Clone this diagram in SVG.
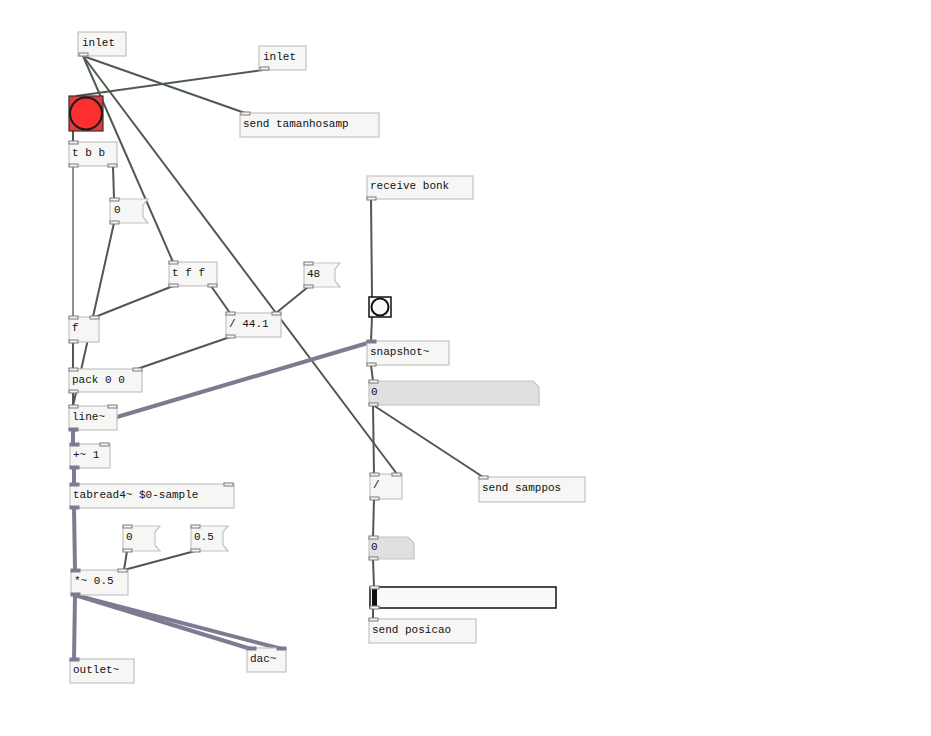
<svg xmlns="http://www.w3.org/2000/svg" width="931" height="736" viewBox="0 0 931 736">
<style>
.b{fill:#f6f6f4;stroke:#c3c3c3;stroke-width:1.2}
.n{fill:#e0e0e0;stroke:#c3c3c3;stroke-width:1.2}
.t{font-family:"Liberation Mono","DejaVu Sans Mono",monospace;font-size:11px;fill:#111}
.p{fill:#f4f4f4;stroke:#7a7a7a;stroke-width:1}
.s{fill:#7d7b92;stroke:#7d7b92;stroke-width:1}
.c{stroke:#4e5a4e;stroke-width:2;fill:none}
.cs{stroke:#7d7b92;stroke-width:4;fill:none}
</style>
<rect width="931" height="736" fill="#ffffff"/>
<g id="connectors">
<line class="c" x1="83" y1="56" x2="245" y2="113"/>
<line class="c" x1="83" y1="56" x2="173" y2="262"/>
<line class="c" x1="83" y1="56" x2="397" y2="474"/>
<line class="c" x1="263" y1="70" x2="76" y2="96"/>
<line class="c" x1="73" y1="131" x2="73" y2="142"/>
<line class="c" x1="73" y1="166" x2="73" y2="317" style="stroke-width:1.3"/>
<line class="c" x1="113" y1="166" x2="114" y2="199"/>
<line class="c" x1="114" y1="223" x2="73" y2="406"/>
<line class="c" x1="173" y1="286" x2="95" y2="317"/>
<line class="c" x1="211" y1="286" x2="230" y2="313"/>
<line class="c" x1="308" y1="287" x2="276" y2="313"/>
<line class="c" x1="230" y1="337" x2="137" y2="369"/>
<line class="c" x1="73" y1="342" x2="73" y2="369"/>
<line class="c" x1="73" y1="392" x2="73" y2="406"/>
<line class="c" x1="127" y1="551" x2="124" y2="570"/>
<line class="c" x1="195" y1="551" x2="124" y2="570"/>
<line class="c" x1="371" y1="199" x2="372" y2="297"/>
<line class="c" x1="372" y1="317" x2="371" y2="341"/>
<line class="c" x1="371" y1="365" x2="373" y2="381"/>
<line class="c" x1="373" y1="405" x2="374" y2="474"/>
<line class="c" x1="373" y1="405" x2="483" y2="477"/>
<line class="c" x1="374" y1="499" x2="373" y2="537"/>
<line class="c" x1="373" y1="559" x2="374" y2="587"/>
<line class="c" x1="373" y1="608" x2="373" y2="619"/>
<line class="cs" x1="73" y1="430" x2="73" y2="444"/>
<line class="cs" x1="73" y1="430" x2="371" y2="342"/>
<line class="cs" x1="74" y1="468" x2="74" y2="484"/>
<line class="cs" x1="74" y1="508" x2="75" y2="570"/>
<line class="cs" x1="75" y1="595" x2="74" y2="659"/>
<line class="cs" x1="75" y1="595" x2="251" y2="649"/>
<line class="cs" x1="75" y1="595" x2="282" y2="649"/>
</g>
<g id="inletL"><rect class="b" x="78" y="32" width="48" height="24"/><text class="t" x="82" y="46">inlet</text><rect class="p" x="79" y="53" width="9" height="3"/></g>
<g id="inletR"><rect class="b" x="259" y="46" width="47" height="24"/><text class="t" x="263" y="60">inlet</text><rect class="p" x="260" y="67" width="9" height="3"/></g>
<g id="bngRed"><rect x="69" y="96" width="34" height="35" fill="#e63a3a" stroke="#333" stroke-width="1.2"/><circle cx="86" cy="113.5" r="16" fill="#fb2f2f" stroke="#1a1a1a" stroke-width="2"/></g>
<g id="sendTam"><rect class="b" x="240" y="113" width="139" height="24"/><text class="t" x="243" y="127">send tamanhosamp</text><rect class="p" x="241" y="112" width="9" height="3"/></g>
<g id="tbb"><rect class="b" x="69" y="142" width="48" height="24"/><text class="t" x="72" y="156">t b b</text><rect class="p" x="69" y="141" width="9" height="3"/><rect class="p" x="69" y="164" width="9" height="3"/><rect class="p" x="108" y="164" width="9" height="3"/></g>
<g id="msg0"><polygon class="b" points="110,199 148,199 143,205 143,217 148,223 110,223"/><text class="t" x="114" y="213">0</text><rect class="p" x="110" y="198" width="9" height="3"/><rect class="p" x="110" y="221" width="9" height="3"/></g>
<g id="tff"><rect class="b" x="169" y="262" width="48" height="24"/><text class="t" x="172" y="276">t f f</text><rect class="p" x="169" y="261" width="9" height="3"/><rect class="p" x="169" y="284" width="9" height="3"/><rect class="p" x="208" y="284" width="9" height="3"/></g>
<g id="msg48"><polygon class="b" points="304,263 340,263 335,269 335,281 340,287 304,287"/><text class="t" x="307" y="277">48</text><rect class="p" x="304" y="262" width="9" height="3"/><rect class="p" x="304" y="285" width="9" height="3"/></g>
<g id="div441"><rect class="b" x="226" y="313" width="55" height="24"/><text class="t" x="229" y="327">/ 44.1</text><rect class="p" x="226" y="312" width="9" height="3"/><rect class="p" x="272" y="312" width="9" height="3"/><rect class="p" x="226" y="335" width="9" height="3"/></g>
<g id="f"><rect class="b" x="69" y="317" width="30" height="25"/><text class="t" x="72" y="331">f</text><rect class="p" x="69" y="316" width="9" height="3"/><rect class="p" x="90" y="316" width="9" height="3"/><rect class="p" x="69" y="340" width="9" height="3"/></g>
<g id="pack"><rect class="b" x="69" y="369" width="73" height="23"/><text class="t" x="72" y="383">pack 0 0</text><rect class="p" x="69" y="368" width="9" height="3"/><rect class="p" x="133" y="368" width="9" height="3"/><rect class="p" x="69" y="390" width="9" height="3"/></g>
<g id="line"><rect class="b" x="69" y="406" width="48" height="24"/><text class="t" x="72" y="420">line~</text><rect class="p" x="69" y="405" width="9" height="3"/><rect class="p" x="108" y="405" width="9" height="3"/><rect class="s" x="69" y="428" width="9" height="3"/></g>
<g id="plus"><rect class="b" x="70" y="444" width="40" height="24"/><text class="t" x="73" y="458">+~ 1</text><rect class="s" x="70" y="443" width="9" height="3"/><rect class="p" x="100" y="443" width="9" height="3"/><rect class="s" x="70" y="466" width="9" height="3"/></g>
<g id="tabread"><rect class="b" x="70" y="484" width="164" height="24"/><text class="t" x="73" y="498">tabread4~ $0-sample</text><rect class="s" x="70" y="483" width="9" height="3"/><rect class="p" x="224" y="483" width="9" height="3"/><rect class="s" x="70" y="506" width="9" height="3"/></g>
<g id="msg0b"><polygon class="b" points="123,526 160,526 155,532 155,545 160,551 123,551"/><text class="t" x="126" y="540">0</text><rect class="p" x="123" y="525" width="9" height="3"/><rect class="p" x="123" y="549" width="9" height="3"/></g>
<g id="msg05"><polygon class="b" points="191,526 228,526 223,532 223,545 228,551 191,551"/><text class="t" x="194" y="540">0.5</text><rect class="p" x="191" y="525" width="9" height="3"/><rect class="p" x="191" y="549" width="9" height="3"/></g>
<g id="mul"><rect class="b" x="71" y="570" width="57" height="25"/><text class="t" x="74" y="584">*~ 0.5</text><rect class="s" x="71" y="569" width="9" height="3"/><rect class="p" x="118" y="569" width="9" height="3"/><rect class="s" x="71" y="593" width="9" height="3"/></g>
<g id="dac"><rect class="b" x="247" y="648" width="39" height="24"/><text class="t" x="250" y="662">dac~</text><rect class="s" x="247" y="647" width="9" height="3"/><rect class="s" x="277" y="647" width="9" height="3"/></g>
<g id="outlet"><rect class="b" x="70" y="659" width="64" height="24"/><text class="t" x="73" y="673">outlet~</text><rect class="s" x="70" y="658" width="9" height="3"/></g>
<g id="recvBonk"><rect class="b" x="367" y="176" width="106" height="23"/><text class="t" x="370" y="189">receive bonk</text><rect class="p" x="367" y="197" width="9" height="3"/></g>
<g id="bngSmall"><rect x="369" y="297" width="22" height="20" fill="#fafafa" stroke="#111" stroke-width="1.5"/><circle cx="380" cy="307" r="8.5" fill="#fafafa" stroke="#111" stroke-width="2"/></g>
<g id="snapshot"><rect class="b" x="367" y="341" width="82" height="24"/><text class="t" x="370" y="355">snapshot~</text><rect class="s" x="367" y="340" width="9" height="3"/><rect class="p" x="367" y="363" width="9" height="3"/></g>
<g id="num0"><polygon class="n" points="369,381 533,381 539,387 539,405 369,405"/><text class="t" x="371" y="395">0</text><rect class="p" x="369" y="380" width="9" height="3"/><rect class="p" x="369" y="403" width="9" height="3"/></g>
<g id="div"><rect class="b" x="370" y="474" width="32" height="25"/><text class="t" x="373" y="488">/</text><rect class="p" x="370" y="473" width="9" height="3"/><rect class="p" x="392" y="473" width="9" height="3"/><rect class="p" x="370" y="497" width="9" height="3"/></g>
<g id="sendSamppos"><rect class="b" x="479" y="477" width="106" height="25"/><text class="t" x="482" y="491">send samppos</text><rect class="p" x="479" y="476" width="9" height="3"/></g>
<g id="num0b"><polygon class="n" points="369,537 408,537 414,543 414,559 369,559"/><text class="t" x="371" y="550">0</text><rect class="p" x="369" y="536" width="9" height="3"/><rect class="p" x="369" y="557" width="9" height="3"/></g>
<g id="hslider"><rect x="370" y="587" width="186" height="21" fill="#fafafa" stroke="#111" stroke-width="1.5"/><rect x="372" y="589" width="5" height="18" fill="#111"/><rect class="p" x="370" y="586" width="9" height="3"/><rect class="p" x="370" y="606" width="9" height="3"/></g>
<g id="sendPos"><rect class="b" x="369" y="619" width="107" height="24"/><text class="t" x="372" y="633">send posicao</text><rect class="p" x="369" y="618" width="9" height="3"/></g>
</svg>
